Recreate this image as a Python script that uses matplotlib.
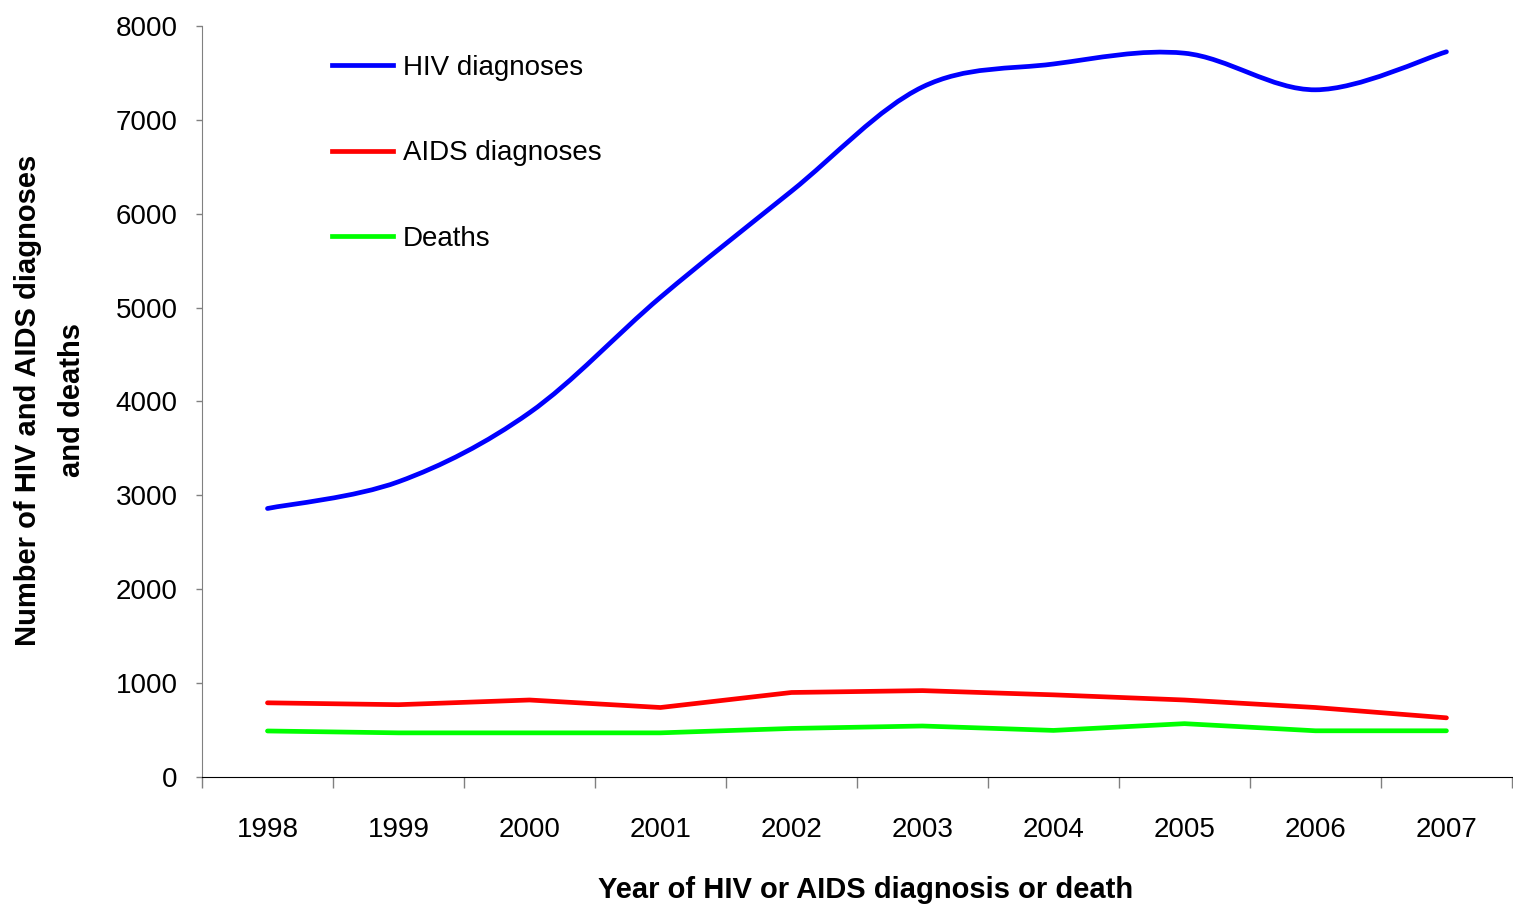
import numpy as np
import matplotlib
matplotlib.use('Agg')
import matplotlib.pyplot as plt
from matplotlib.path import Path
from matplotlib.patches import PathPatch
from matplotlib.lines import Line2D

plt.rcParams['font.family'] = ['Liberation Sans', 'DejaVu Sans']

years = ['1998', '1999', '2000', '2001', '2002', '2003', '2004', '2005', '2006', '2007']
hiv = [2860, 3145, 3880, 5110, 6240, 7350, 7595, 7710, 7320, 7725]
aids = [790, 770, 820, 740, 900, 920, 875, 820, 740, 630]
deaths = [490, 470, 470, 470, 517, 543, 496, 568, 492, 492]

x = np.arange(len(years)) + 0.5


def smooth_path(xs, ys):
    # Excel-style smoothed line: cubic bezier segments through the points
    pts = np.column_stack([xs, ys]).astype(float)
    ext = np.vstack([pts[0], pts, pts[-1]])
    verts = [tuple(pts[0])]
    codes = [Path.MOVETO]
    for i in range(1, len(ext) - 2):
        p0, p1, p2, p3 = ext[i - 1], ext[i], ext[i + 1], ext[i + 2]
        c1 = p1 + (p2 - p0) / 6.0
        c2 = p2 - (p3 - p1) / 6.0
        verts += [tuple(c1), tuple(c2), tuple(p2)]
        codes += [Path.CURVE4] * 3
    return Path(verts, codes)


fig = plt.figure(figsize=(15.13, 9.08), dpi=100)
ax = fig.add_axes([0.1335, 0.1443, 0.8658, 0.8271])

lw = 3.4
ax.add_patch(PathPatch(smooth_path(x, hiv), fill=False, edgecolor='#0000FF',
                       lw=lw, capstyle='round', joinstyle='round'))
ax.plot(x, aids, color='#FF0000', lw=lw, solid_capstyle='round')
ax.plot(x, deaths, color='#00FF00', lw=lw, solid_capstyle='round')

ax.set_xlim(0, 10)
ax.set_ylim(0, 8000)

ax.set_yticks(range(0, 8001, 1000))
ax.tick_params(axis='y', length=4.5, width=1, color='#808080', pad=13, labelsize=20)
ax.set_xticks(np.arange(0, 11))
ax.set_xticklabels([])
ax.tick_params(axis='x', which='major', length=8, width=1, color='#808080')
ax.set_xticks(x, minor=True)
ax.set_xticklabels(years, minor=True)
ax.tick_params(axis='x', which='minor', length=0, pad=29, labelsize=20)

for s in ['top', 'right']:
    ax.spines[s].set_visible(False)
ax.spines['left'].set_color('#808080')
ax.spines['bottom'].set_color('#000000')

handles = [Line2D([], [], color='#0000FF', lw=lw),
           Line2D([], [], color='#FF0000', lw=lw),
           Line2D([], [], color='#00FF00', lw=lw)]
ax.legend(handles, ['HIV diagnoses', 'AIDS diagnoses', 'Deaths'],
          loc='upper left', bbox_to_anchor=(0.099, 0.962), frameon=False,
          fontsize=20, handlelength=2.2, handletextpad=0.35, labelspacing=2.15,
          borderaxespad=0, borderpad=0)

fig.text(50 / 1513, 1 - 400 / 908, 'Number of HIV and AIDS diagnoses\nand deaths',
         rotation=90, ha='center', va='center', multialignment='center',
         fontsize=21, fontweight='bold', linespacing=1.75)
fig.text(866 / 1513, 1 - 890 / 908, 'Year of HIV or AIDS diagnosis or death',
         ha='center', va='center', fontsize=21, fontweight='bold')

fig.savefig('out.png', dpi=100)
